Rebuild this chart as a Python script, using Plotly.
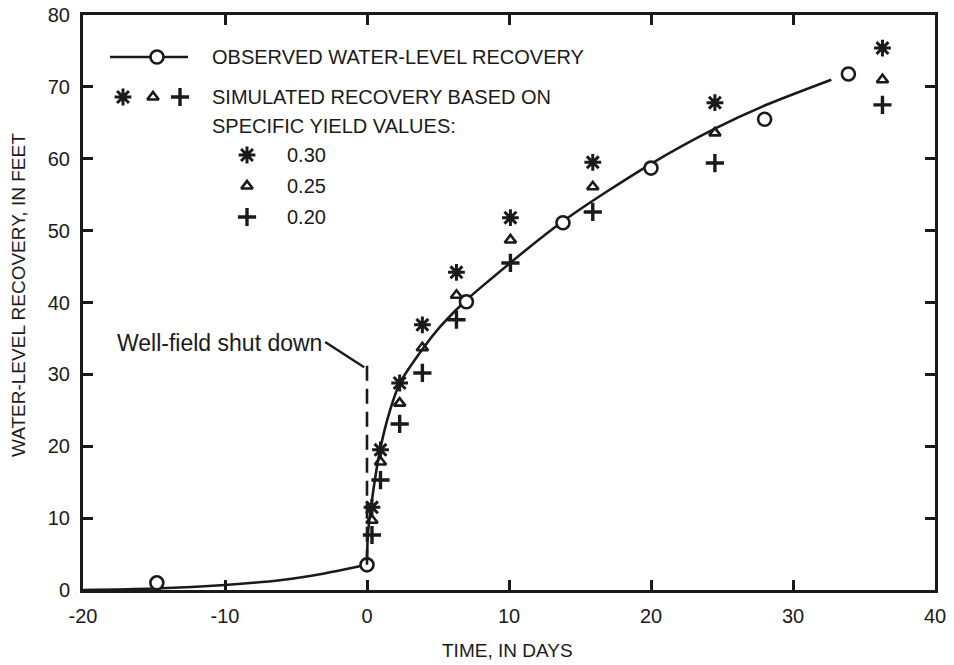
import plotly.graph_objects as go

# ---- data ----
obs_days = [-14.8, 0.0, 7.0, 13.8, 20.0, 28.0, 33.9]
obs_rec = [1.0, 3.5, 40.1, 51.1, 58.7, 65.5, 71.8]

# fitted observed curve, before and after shutdown
pre_days = [-20, -15, -10, -6, -3, 0.0]
pre_rec = [0.0, 0.2, 0.7, 1.4, 2.3, 3.5]
post_days = [0.0, 0.07, 0.42, 0.92, 1.62, 2.32, 3.94, 5.14, 6.76, 7.96,
             13.8, 20.0, 24.5, 28.0, 32.7]
post_rec = [3.5, 7.9, 13.5, 19.5, 25.0, 28.8, 33.6, 36.6, 39.9, 42.0,
            51.3, 59.3, 64.2, 67.4, 71.0]

sim_days = [0.35, 0.95, 2.3, 3.9, 6.3, 10.1, 15.9, 24.5, 36.3]
sim_030 = [11.5, 19.5, 28.8, 36.9, 44.2, 51.8, 59.5, 67.8, 75.4]
sim_025 = [9.7, 17.8, 26.0, 33.7, 41.0, 48.7, 56.1, 63.6, 71.0]
sim_020 = [7.65, 15.3, 23.1, 30.2, 37.6, 45.5, 52.6, 59.4, 67.5]

x_ticks = [-20, -10, 0, 10, 20, 30, 40]
y_ticks = [0, 10, 20, 30, 40, 50, 60, 70, 80]

shutdown_day = 0
shutdown_top = 31.3

FONT = "Liberation Sans, Arial, sans-serif"
INK = "#1a1a1a"

STAR = dict(symbol="asterisk-open", size=14, color=INK, line=dict(color=INK, width=3))
TRI = dict(symbol="triangle-up-open", size=10, color=INK, line=dict(color=INK, width=2.6))
PLUS = dict(symbol="cross-thin-open", size=13, color=INK, line=dict(color=INK, width=3.4))
CIRC = dict(symbol="circle", size=13, color="white", line=dict(color=INK, width=2.6))

fig = go.Figure()

for xs, ys in [(pre_days, pre_rec), (post_days, post_rec)]:
    fig.add_trace(go.Scatter(x=xs, y=ys, mode="lines",
                             line=dict(color=INK, width=2.6, shape="spline", smoothing=0.8),
                             hoverinfo="skip", showlegend=False))
fig.add_trace(go.Scatter(x=obs_days, y=obs_rec, mode="markers", marker=CIRC,
                         name="Observed", showlegend=False))
fig.add_trace(go.Scatter(x=sim_days, y=sim_030, mode="markers", marker=STAR,
                         name="0.30", showlegend=False))
fig.add_trace(go.Scatter(x=sim_days, y=sim_025, mode="markers", marker=TRI,
                         name="0.25", showlegend=False))
fig.add_trace(go.Scatter(x=sim_days, y=sim_020, mode="markers", marker=PLUS,
                         name="0.20", showlegend=False))

# ---- custom key drawn on an overlay axis in pixel units ----
fig.add_trace(go.Scatter(x=[110, 188], y=[57, 57], xaxis="x2", yaxis="y2", mode="lines",
                         line=dict(color=INK, width=2.6), hoverinfo="skip", showlegend=False))
fig.add_trace(go.Scatter(x=[157], y=[57], xaxis="x2", yaxis="y2", mode="markers",
                         marker=CIRC, hoverinfo="skip", showlegend=False))
key_marks = [STAR, TRI, PLUS]
key_row_x = [123, 153, 180]
key_col_y = [155, 186, 217]
for i in range(3):
    fig.add_trace(go.Scatter(x=[key_row_x[i], 247], y=[97, key_col_y[i]],
                             xaxis="x2", yaxis="y2", mode="markers",
                             marker=key_marks[i], hoverinfo="skip", showlegend=False))

key_texts = ["OBSERVED WATER-LEVEL RECOVERY", "SIMULATED RECOVERY BASED ON",
             "SPECIFIC YIELD VALUES:", "0.30", "0.25", "0.20"]
key_tx = [210, 210, 210, 285, 285, 285]
key_ty = [57, 97, 126, 155, 186, 217]
annotations = []
for t, x, y in zip(key_texts, key_tx, key_ty):
    annotations.append(dict(text=t, x=x, y=y, xref="x2", yref="y2", xanchor="left",
                            yanchor="middle", showarrow=False,
                            font=dict(family=FONT, size=20, color=INK)))

annotations.append(dict(text="Well-field shut down", x=-3.05, y=34.4, xref="x", yref="y",
                        xanchor="right", yanchor="middle", showarrow=False,
                        font=dict(family=FONT, size=23, color=INK)))

# axis titles
annotations.append(dict(text="TIME, IN DAYS", x=0.4977, y=-0.106, xref="paper", yref="paper",
                        xanchor="center", yanchor="middle", showarrow=False,
                        font=dict(family=FONT, size=19, color=INK)))
annotations.append(dict(text="WATER-LEVEL RECOVERY, IN FEET", x=-0.0763, y=0.513,
                        xref="paper", yref="paper", xanchor="center", yanchor="middle",
                        textangle=-90, showarrow=False,
                        font=dict(family=FONT, size=19, color=INK)))

shapes = [
    dict(type="line", xref="x", yref="y", x0=shutdown_day, x1=shutdown_day,
         y0=obs_rec[1], y1=shutdown_top, line=dict(color=INK, width=2.6, dash="15px,8px")),
    dict(type="line", xref="x", yref="y", x0=-2.95, y0=34.5, x1=-0.2, y1=31.0,
         line=dict(color=INK, width=2.4)),
]

axis_common = dict(showgrid=False, zeroline=False, showline=True, linecolor=INK,
                   linewidth=3, ticks="inside", ticklen=10, tickwidth=2.6, tickcolor=INK,
                   mirror="ticks", automargin=False,
                   tickfont=dict(family=FONT, size=20, color=INK))

fig.update_layout(
    width=954, height=665,
    margin=dict(l=83, r=19, t=15, b=75),
    paper_bgcolor="white", plot_bgcolor="white",
    xaxis=dict(range=[-20, 40], tickvals=x_ticks, ticktext=[str(v) for v in x_ticks],
               ticklabelstandoff=6, **axis_common),
    yaxis=dict(range=[0, 80], tickvals=y_ticks, ticktext=[str(v) for v in y_ticks],
               ticklabelstandoff=6, **axis_common),
    xaxis2=dict(range=[83, 935], overlaying="x", visible=False, fixedrange=True),
    yaxis2=dict(range=[590, 15], overlaying="y", visible=False, fixedrange=True),
    annotations=annotations,
    shapes=shapes,
    showlegend=False,
)

fig.write_html("out.html")
